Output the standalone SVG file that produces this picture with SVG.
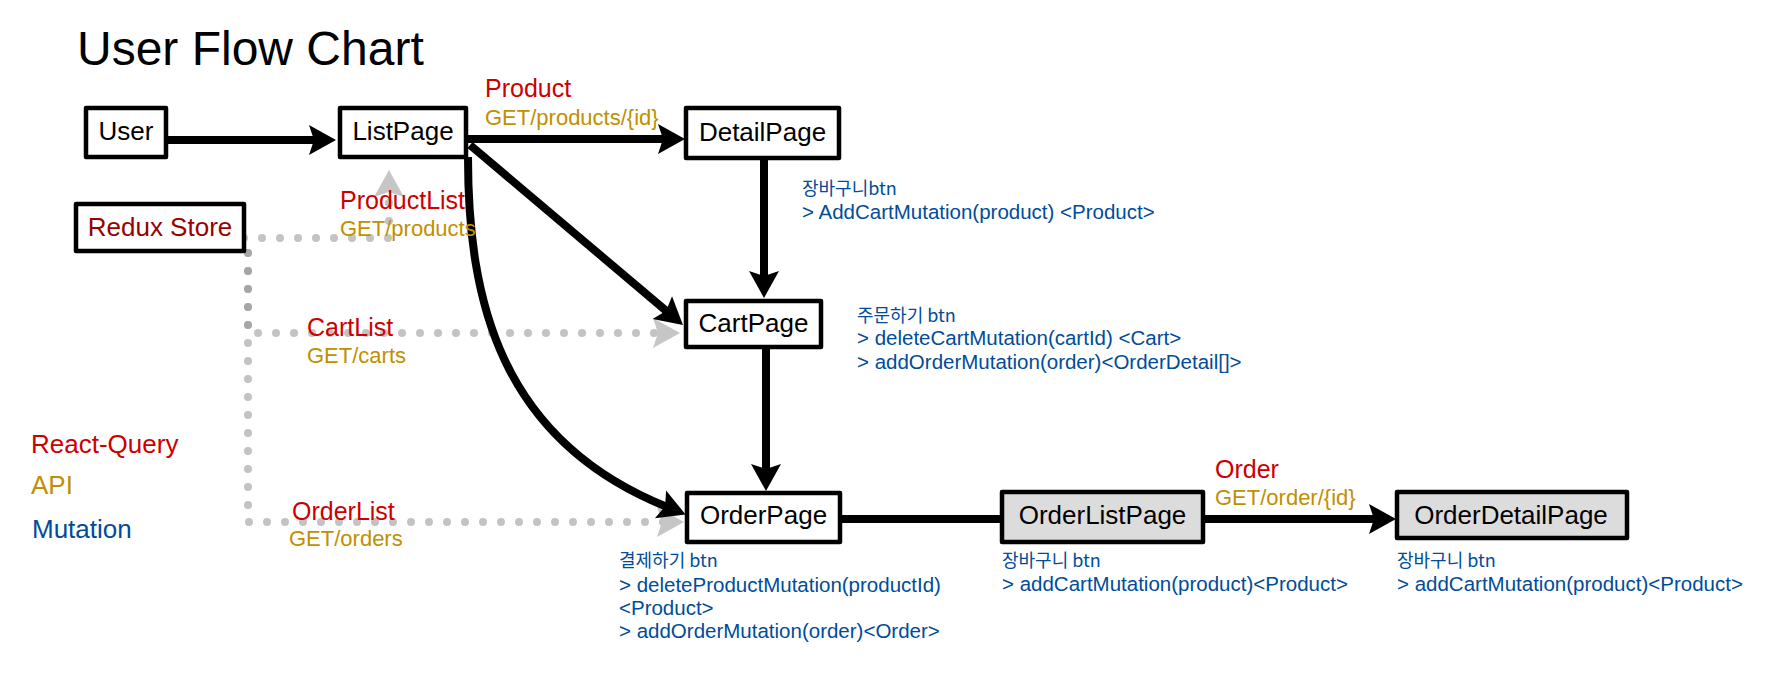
<svg xmlns="http://www.w3.org/2000/svg" width="1790" height="676" viewBox="0 0 1790 676">
<style>
.box{fill:#ffffff;stroke:#000;stroke-width:4.5;stroke-linejoin:round}
.gbox{fill:#dcdcdc;stroke:#000;stroke-width:4.5;stroke-linejoin:round}
.nt{font-family:"Liberation Sans",Arial,sans-serif;font-size:26px;fill:#000;text-anchor:middle}
.edge{fill:none;stroke:#000;stroke-width:8;stroke-linecap:butt}
.dot{fill:none;stroke:#888;stroke-opacity:0.5;stroke-width:8;stroke-linecap:round;stroke-dasharray:0 18}
.red{font-family:"Liberation Sans",Arial,sans-serif;font-size:25px;fill:#cc0000}
.gold{font-family:"Liberation Sans",Arial,sans-serif;font-size:22px;fill:#bf9000}
.blue{font-family:"Liberation Sans","Noto Sans CJK KR",sans-serif;font-size:20.5px;fill:#004c99}
.kr{font-family:"Noto Sans CJK KR","Liberation Sans",sans-serif;font-size:18px;fill:#004c99}
.leg{font-family:"Liberation Sans",Arial,sans-serif;font-size:26px}
</style>
<defs>
<marker id="ah" viewBox="-8 -16 30 32" refX="0" refY="0" markerWidth="30" markerHeight="32" markerUnits="userSpaceOnUse" orient="auto" overflow="visible">
<path d="M20,0 L-7,-15 L-2,0 L-7,15 Z" fill="#000"/>
</marker>
<marker id="gh" viewBox="-8 -16 30 32" refX="0" refY="0" markerWidth="30" markerHeight="32" markerUnits="userSpaceOnUse" orient="auto" overflow="visible">
<path d="M20,0 L-7,-15 L-2,0 L-7,15 Z" fill="#c6c6c6"/>
</marker>
</defs>
<rect width="1790" height="676" fill="#ffffff"/>
<text x="77" y="65" font-family="Liberation Sans,Arial,sans-serif" font-size="48" fill="#000">User Flow Chart</text>

<g id="connectors">
<path class="dot" d="M244,238 H389 V190" marker-end="url(#gh)"/>
<path class="dot" d="M248,253 V333 H660" marker-end="url(#gh)"/>
<path class="dot" d="M248,253 V522 H664" marker-end="url(#gh)"/>
<path class="edge" d="M166,140 H316" marker-end="url(#ah)"/>
<path class="edge" d="M466,139 H665" marker-end="url(#ah)"/>
<path class="edge" d="M470,145 L667.7,312.1" marker-end="url(#ah)"/>
<path class="edge" d="M468,157 C468,300 500,440 667,507" marker-end="url(#ah)"/>
<path class="edge" d="M764,158 V278" marker-end="url(#ah)"/>
<path class="edge" d="M766,347 V471" marker-end="url(#ah)"/>
<path class="edge" d="M840,519 H1002" stroke-width="9"/>
<path class="edge" d="M1203,519 H1376" marker-end="url(#ah)"/>
</g>

<g id="node-user"><rect class="box" x="86" y="108" width="80" height="49"/><text class="nt" x="126" y="140">User</text></g>
<g id="node-listpage"><rect class="box" x="340" y="108" width="126" height="49"/><text class="nt" x="403" y="140">ListPage</text></g>
<g id="node-detailpage"><rect class="box" x="686" y="108" width="153" height="50"/><text class="nt" x="762.5" y="141">DetailPage</text></g>
<g id="node-redux"><rect class="box" x="76" y="204" width="168" height="47"/><text class="nt" x="160" y="236" style="fill:#990000">Redux Store</text></g>
<g id="node-cartpage"><rect class="box" x="686" y="301" width="135" height="46"/><text class="nt" x="753.5" y="332">CartPage</text></g>
<g id="node-orderpage"><rect class="box" x="687" y="493" width="153" height="49"/><text class="nt" x="763.5" y="524">OrderPage</text></g>
<g id="node-orderlistpage"><rect class="gbox" x="1002" y="492" width="201" height="50"/><text class="nt" x="1102.5" y="524">OrderListPage</text></g>
<g id="node-orderdetailpage"><rect class="gbox" x="1397" y="492" width="230" height="46"/><text class="nt" x="1511" y="524">OrderDetailPage</text></g>

<g id="labels">
<text class="red" x="485" y="97">Product</text>
<text class="gold" x="485" y="125">GET/products/{id}</text>
<text class="red" x="340" y="209">ProductList</text>
<text class="gold" x="340" y="236">GET/products</text>
<text class="red" x="307" y="336">CartList</text>
<text class="gold" x="307" y="363">GET/carts</text>
<text class="red" x="292" y="520">OrderList</text>
<text class="gold" x="289" y="546">GET/orders</text>
<text class="red" x="1215" y="478">Order</text>
<text class="gold" x="1215" y="505">GET/order/{id}</text>

<text class="kr" x="802" y="195">장바구니btn</text>
<text class="blue" x="802" y="219">&gt; AddCartMutation(product) &lt;Product&gt;</text>
<text class="kr" x="857" y="322">주문하기 btn</text>
<text class="blue" x="857" y="345">&gt; deleteCartMutation(cartId) &lt;Cart&gt;</text>
<text class="blue" x="857" y="369">&gt; addOrderMutation(order)&lt;OrderDetail[]&gt;</text>
<text class="kr" x="619" y="567">결제하기 btn</text>
<text class="blue" x="619" y="592">&gt; deleteProductMutation(productId)</text>
<text class="blue" x="619" y="615">&lt;Product&gt;</text>
<text class="blue" x="619" y="638">&gt; addOrderMutation(order)&lt;Order&gt;</text>
<text class="kr" x="1002" y="567">장바구니 btn</text>
<text class="blue" x="1002" y="591">&gt; addCartMutation(product)&lt;Product&gt;</text>
<text class="kr" x="1397" y="567">장바구니 btn</text>
<text class="blue" x="1397" y="591">&gt; addCartMutation(product)&lt;Product&gt;</text>
</g>

<g id="legend">
<text class="leg" x="31" y="453" fill="#cc0000">React-Query</text>
<text class="leg" x="31" y="494" fill="#bf9000">API</text>
<text class="leg" x="32" y="538" fill="#004c99">Mutation</text>
</g>
</svg>
